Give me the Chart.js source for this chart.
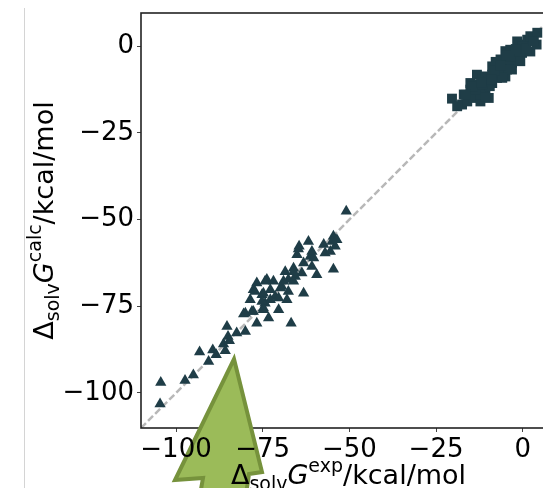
<!DOCTYPE html>
<html>
<head>
<meta charset="utf-8">
<script src="https://cdn.jsdelivr.net/npm/chart.js@4/dist/chart.umd.min.js"></script>
<style>
  html, body { margin: 0; padding: 0; background: #fff; overflow: hidden; width: 543px; height: 488px; }
  #wrap { position: relative; width: 543px; height: 488px; overflow: hidden; }
  canvas { display: block; }
</style>
</head>
<body>
<div id="wrap"><canvas id="c" width="600" height="488"></canvas></div>
<script>
// Solvation free energies (kcal/mol): experiment vs. calculation
const axisTicks = [-100, -75, -50, -25, 0];
const axisRange = [-110.1, 9.6];

// neutral molecules (squares)
const squareExp = [-20.4, -18.9, -17.5, -17.0, -16.0, -15.1, -14.1, -12.2, -12.2, -9.8,
  -10.8, -15.1, -12.7, -13.2, -11.7, -10.8, -10.8, -8.8, -8.8, -7.4,
  -8.8, -6.4, -5.9, -5.0, -4.5, -6.4, -4.0, -3.1, -2.6, -5.0,
  -3.6, -2.3, -0.2, -1.2, -1.6, 0.8, 1.3, 2.2, 3.2, 4.2,
  -7.0, -9.5, -13.5, -11.5, -3.5, -1.0, 0.0, -7.8, -5.9, -3.1,
  -0.7, 2.2, 4.0, -14.5, -16.5, -10.0, -8.0, -6.5, -2.0, 1.0,
  3.0, -12.0, -9.0, -4.8];
const squareCalc = [-15.1, -17.3, -16.8, -13.9, -15.9, -12.5, -14.9, -15.9, -13.9, -14.9,
  -14.4, -10.6, -11.1, -8.2, -9.6, -8.7, -12.0, -10.6, -8.2, -9.1,
  -5.8, -6.7, -5.3, -8.7, -6.7, -3.8, -3.8, -4.8, -2.9, -1.4,
  -1.0, -2.1, -1.9, -0.5, 1.4, 0.5, 1.9, 2.9, 2.4, 3.9,
  -7.5, -11.5, -12.5, -11.0, -3.0, -1.5, 0.0, -4.5, -9.1, -6.7,
  -4.3, -1.5, 0.5, -11.5, -14.0, -10.0, -7.0, -5.5, -0.8, -0.6,
  1.5, -10.5, -9.5, -2.6];

// ions (triangles)
const triangleExp = [-50.9, -104.4, -104.6, -97.4, -95.0, -93.2, -90.6, -89.4, -88.4, -86.3,
  -85.3, -85.0, -85.8, -84.6, -82.5, -80.0, -80.5, -78.1, -76.7, -76.7,
  -77.7, -75.2, -74.3, -73.8, -73.3, -74.8, -71.9, -72.8, -71.4, -70.4,
  -69.5, -68.5, -68.0, -67.6, -66.8, -66.1, -65.6, -65.1, -64.5, -63.7,
  -63.2, -63.2, -61.8, -61.3, -60.8, -60.3, -59.4, -60.8, -57.4, -57.0,
  -55.5, -54.6, -54.6, -54.1, -55.0, -53.6, -64.7, -66.1, -66.1, -69.0,
  -74.3, -77.2, -74.8, -69.9, -67.6, -70.4, -72.8, -75.2, -78.6, -80.0,
  -77.7, -74.8];
const triangleCalc = [-47.6, -97.0, -103.2, -96.4, -94.8, -88.2, -90.9, -87.6, -89.0, -85.9,
  -80.8, -83.7, -87.8, -84.9, -82.7, -82.3, -77.2, -76.5, -79.9, -68.3,
  -70.2, -71.7, -74.1, -67.3, -78.4, -75.5, -67.8, -70.2, -72.2, -76.0,
  -69.3, -65.0, -73.1, -67.3, -79.9, -64.0, -66.4, -60.1, -57.7, -65.4,
  -71.2, -62.5, -56.3, -60.6, -63.5, -61.1, -65.9, -59.2, -57.2, -59.6,
  -59.2, -54.8, -64.3, -57.7, -56.3, -55.8, -58.5, -65.0, -67.8, -67.8,
  -67.8, -70.7, -71.2, -69.7, -70.7, -72.6, -73.1, -73.6, -73.1, -77.0,
  -76.5, -76.0];

// y = x reference line end points
const parityLine = [-110.1, 9.6];

const markerColor = '#1f3d47';
const fontFamily = "'DejaVu Sans', sans-serif";
const tickFont = { family: fontFamily, size: 26 };
const formatTick = v => (v < 0 ? '\u2212' + Math.abs(v) : String(v));

// Mathtext-like label: upright, italic, sub- and superscript pieces
function drawMathLabel(c, parts, cx, baseline) {
  let total = 0;
  parts.forEach(p => {
    c.font = (p.italic ? 'oblique ' : '') + p.size + 'px ' + fontFamily;
    p.w = c.measureText(p.t).width;
    total += p.w;
  });
  let x = cx - total / 2;
  c.fillStyle = '#000';
  c.textBaseline = 'alphabetic';
  c.textAlign = 'left';
  parts.forEach(p => {
    c.font = (p.italic ? 'oblique ' : '') + p.size + 'px ' + fontFamily;
    c.fillText(p.t, x, baseline + (p.dy || 0));
    x += p.w;
  });
}
function titleParts(sup) {
  return [
    { t: '\u0394', size: 27 },
    { t: 'solv', size: 19, dy: 6 },
    { t: 'G', size: 27, italic: true },
    { t: sup, size: 19, dy: -12 },
    { t: '/kcal/mol', size: 27 }
  ];
}

// highlight arrow drawn over the lower part of the figure
const arrowShape = [[234, 359], [262, 472], [249, 474], [246, 495], [200, 495], [203, 478], [175, 480]];

const framePlugin = {
  id: 'frame',
  beforeDraw(chart) {
    const c = chart.ctx;
    c.save();
    c.strokeStyle = '#d4d4d4';
    c.lineWidth = 1;
    c.beginPath();
    c.moveTo(24.5, 8);
    c.lineTo(24.5, 488);
    c.stroke();
    c.restore();
  },
  afterDatasetsDraw(chart) {
    const c = chart.ctx, a = chart.chartArea;
    c.save();
    c.strokeStyle = '#222';
    c.lineWidth = 1.6;
    c.strokeRect(a.left, a.top, a.right - a.left, a.bottom - a.top);
    c.beginPath();
    arrowShape.forEach(([x, y], i) => (i ? c.lineTo(x, y) : c.moveTo(x, y)));
    c.closePath();
    c.fillStyle = '#9bbb59';
    c.fill();
    c.lineJoin = 'miter';
    c.strokeStyle = '#76923c';
    c.lineWidth = 4;
    c.stroke();
    c.restore();
  },
  afterDraw(chart) {
    const c = chart.ctx, a = chart.chartArea;
    c.save();
    drawMathLabel(c, titleParts('exp'), (a.left + a.right) / 2, 484);
    c.restore();
    c.save();
    c.translate(53, (a.top + a.bottom) / 2);
    c.rotate(-Math.PI / 2);
    drawMathLabel(c, titleParts('calc'), 0, 0);
    c.restore();
  }
};

function axisOptions(fit) {
  return {
    type: 'linear',
    min: axisRange[0],
    max: axisRange[1],
    afterFit: s => {
      fit(s);
      s.paddingTop = 0; s.paddingBottom = 0; s.paddingLeft = 0; s.paddingRight = 0;
    },
    afterBuildTicks: s => { s.ticks = axisTicks.map(v => ({ value: v })); },
    grid: { drawOnChartArea: false, drawTicks: true, tickLength: 4, color: '#444', tickWidth: 1 },
    border: { display: false },
    ticks: { z: 1, font: tickFont, color: '#000', padding: 3, callback: formatTick, maxRotation: 0, autoSkip: false }
  };
}

new Chart(document.getElementById('c'), {
  type: 'scatter',
  data: {
    datasets: [
      {
        label: 'neutral',
        data: squareExp.map((x, i) => ({ x, y: squareCalc[i] })),
        pointStyle: 'rect',
        pointRadius: 7,
        backgroundColor: markerColor,
        borderColor: markerColor,
        borderWidth: 0
      },
      {
        label: 'ions',
        data: triangleExp.map((x, i) => ({ x, y: triangleCalc[i] })),
        pointStyle: 'triangle',
        pointRadius: 6.5,
        backgroundColor: markerColor,
        borderColor: markerColor,
        borderWidth: 0
      },
      {
        label: 'y = x',
        data: parityLine.map(v => ({ x: v, y: v })),
        showLine: true,
        pointRadius: 0,
        borderColor: '#b8b8b8',
        borderWidth: 2.5,
        borderDash: [7, 3],
        fill: false
      }
    ]
  },
  options: {
    responsive: false,
    animation: false,
    devicePixelRatio: 1,
    layout: { padding: { top: 13, right: 44, left: 0, bottom: 0 } },
    plugins: { legend: { display: false }, tooltip: { enabled: false } },
    scales: {
      x: axisOptions(s => { s.height = 60; }),
      y: axisOptions(s => { s.width = 141; })
    }
  },
  plugins: [framePlugin]
});
</script>
</body>
</html>
